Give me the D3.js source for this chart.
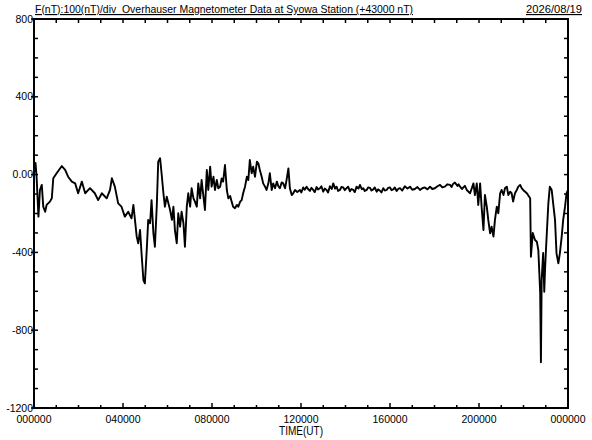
<!DOCTYPE html>
<html><head><meta charset="utf-8">
<script src="https://cdn.jsdelivr.net/npm/d3@7"></script>
<style>body{margin:0;background:#fff} svg{display:block}</style>
</head><body><svg id="c" width="592" height="440"></svg>
<script>
// [minutes of UT day, F in nT relative to +43000 nT]
const fieldSeries = [
[1,13],[4,60],[7,-12],[12,-216],[16,-79],[21,-53],[25,-165],[30,-191],[34,-156],[43,-139],[48,-122],[52,-19],[61,7],[75,44],[84,24],[92,-11],[102,-36],[111,-45],[119,-96],[129,-36],[138,-96],[151,-70],[164,-96],[173,-131],[183,-96],[196,-122],[205,-79],[210,-19],[218,-62],[227,-148],[236,-165],[245,-216],[254,-191],[263,-225],[268,-156],[277,-319],[281,-353],[286,-285],[290,-405],[295,-542],[299,-559],[304,-388],[308,-233],[313,-250],[317,-131],[322,-302],[326,-371],[331,-165],[335,66],[340,84],[344,7],[349,-96],[353,-165],[358,-114],[367,-182],[372,-233],[376,-165],[380,-285],[385,-353],[389,-199],[394,-268],[398,-191],[403,-250],[407,-371],[412,-165],[416,-96],[421,-165],[425,-70],[430,-122],[434,-139],[439,-165],[443,-45],[448,-122],[452,-28],[457,-114],[461,-182],[466,24],[470,-79],[475,41],[479,-62],[484,-11],[488,-79],[493,-28],[497,-70],[502,-62],[506,-20],[510,-36],[515,49],[520,-79],[524,-122],[529,-110],[533,-139],[537,-165],[542,-173],[547,-156],[551,-165],[556,-139],[560,-131],[564,-96],[569,-62],[574,-11],[578,-28],[582,75],[587,7],[591,41],[596,-11],[601,66],[605,58],[609,24],[614,-11],[618,-45],[623,-62],[627,-79],[632,-45],[636,7],[641,-79],[645,-45],[650,-70],[655,-36],[659,-60],[663,-70],[668,-40],[672,-45],[677,-70],[681,-28],[686,32],[690,-70],[695,-105],[699,-96],[704,-79],[710,-90],
[717,-79],[721,-92],[726,-66],[730,-78],[735,-62],[739,-74],[744,-84],[748,-68],[753,-79],[757,-90],[762,-64],[766,-76],[771,-70],[775,-60],[780,-88],[784,-72],[789,-79],[793,-92],[798,-60],[803,-74],[807,-45],[812,-72],[816,-62],[820,-84],[825,-79],[829,-64],[834,-66],[838,-80],[843,-70],[847,-62],[852,-86],[856,-74],[861,-79],[865,-90],[870,-62],[875,-72],[879,-53],[884,-75],[888,-70],[892,-84],[897,-79],[901,-66],[906,-68],[910,-82],[915,-76],[919,-66],[924,-88],[928,-76],[933,-83],[937,-92],[942,-70],[946,-82],[951,-79],[955,-68],[960,-66],[964,-80],[969,-76],[973,-66],[978,-84],[982,-74],[987,-70],[993,-82],[1000,-60],[1007,-72],[1014,-62],[1020,-78],[1027,-74],[1034,-64],[1041,-79],[1047,-70],[1054,-66],[1061,-76],[1068,-62],[1074,-74],[1081,-70],[1088,-60],[1095,-53],[1101,-66],[1108,-62],[1115,-50],[1122,-53],[1126,-64],[1130,-48],[1135,-41],[1142,-58],[1145,-50],[1149,-62],[1154,-74],[1158,-66],[1162,-58],[1167,-79],
[1176,-96],[1185,-45],[1189,-105],[1194,-45],[1198,-156],[1203,-45],[1207,-165],[1212,-285],[1216,-105],[1221,-165],[1225,-233],[1230,-302],[1234,-268],[1239,-319],[1243,-233],[1248,-165],[1252,-199],[1257,-96],[1261,-79],[1266,-105],[1270,-70],[1275,-62],[1279,-105],[1284,-88],[1288,-96],[1292,-139],[1297,-96],[1302,-79],[1306,-62],[1311,-53],[1315,-70],[1319,-79],[1329,-96],[1338,-122],[1340,-422],[1345,-300],[1351,-336],[1356,-345],[1360,-388],[1365,-609],[1367,-965],[1369,-542],[1373,-403],[1376,-602],[1378,-490],[1381,-371],[1387,-148],[1391,-62],[1396,-79],[1400,-148],[1405,-233],[1409,-405],[1414,-456],[1418,-405],[1423,-319],[1427,-233],[1432,-165],[1436,-96],[1440,-79]
];

const yTickValues = [800, 400, 0, -400, -800, -1200];
const yTickLabels = ["800", "400", "0.00", "-400", "-800", "-1200"];
const xTickHours = [0, 4, 8, 12, 16, 20, 24];
const xTickLabels = ["000000", "040000", "080000", "120000", "160000", "200000", "000000"];
const titleText = "F(nT):100(nT)/div  Overhauser Magnetometer Data at Syowa Station (+43000 nT)";
const dateText = "2026/08/19";
const xAxisTitle = "TIME(UT)";

const L = 34, R = 568, T = 19, B = 408;
const svg = d3.select("#c");
const font = "'Liberation Sans', Arial, sans-serif";
const x = d3.scaleLinear().domain([0, 1440]).range([L, R]);
const y = d3.scaleLinear().domain([-1200, 800]).range([B, T]);

svg.append("rect").attr("width", 592).attr("height", 440).attr("fill", "#fff");

svg.append("clipPath").attr("id", "clip").append("rect")
  .attr("x", L).attr("y", T).attr("width", R - L).attr("height", B - T);

svg.append("path").datum(fieldSeries)
  .attr("clip-path", "url(#clip)")
  .attr("fill", "none").attr("stroke", "#000").attr("stroke-width", 1.9)
  .attr("stroke-linejoin", "round")
  .attr("d", d3.line().x(d => x(d[0])).y(d => y(d[1])));

const g = svg.append("g").attr("stroke", "#000").attr("stroke-width", 1.5);
d3.range(-1200, 801, 100).forEach(v => {
  const major = v % 400 === 0;
  g.append("line").attr("x1", major ? L - 3 : L).attr("x2", L + 4).attr("y1", y(v)).attr("y2", y(v));
  g.append("line").attr("x1", R - 4).attr("x2", R).attr("y1", y(v)).attr("y2", y(v));
});
d3.range(0, 25, 1).forEach(h => {
  const major = h % 4 === 0;
  g.append("line").attr("x1", x(h * 60)).attr("x2", x(h * 60)).attr("y1", B).attr("y2", B - (major ? 5 : 3));
  g.append("line").attr("x1", x(h * 60)).attr("x2", x(h * 60)).attr("y1", T).attr("y2", T + 4);
});

svg.append("rect").attr("x", L).attr("y", T).attr("width", R - L).attr("height", B - T)
  .attr("fill", "none").attr("stroke", "#000").attr("stroke-width", 2);

svg.append("g").selectAll("text").data(yTickValues).join("text")
  .attr("x", L - 1).attr("y", d => y(d)).attr("dy", "0.35em")
  .attr("text-anchor", "end").attr("font-family", font).attr("font-size", 10.5)
  .text((d, i) => yTickLabels[i]);

svg.append("g").selectAll("text").data(xTickHours).join("text")
  .attr("x", d => x(d * 60)).attr("y", 423)
  .attr("text-anchor", "middle").attr("font-family", font).attr("font-size", 10.5)
  .text((d, i) => xTickLabels[i]);

svg.append("text").attr("x", (L + R) / 2).attr("y", 435).attr("text-anchor", "middle")
  .attr("font-family", font).attr("font-size", 12)
  .attr("textLength", 44).attr("lengthAdjust", "spacingAndGlyphs").text(xAxisTitle);

svg.append("text").attr("x", 35).attr("y", 13).attr("font-family", font).attr("font-size", 11.5)
  .style("white-space", "pre").attr("text-decoration", "underline")
  .attr("textLength", 378).attr("lengthAdjust", "spacingAndGlyphs").text(titleText);
svg.append("text").attr("x", 582).attr("y", 13).attr("text-anchor", "end").attr("font-family", font)
  .attr("font-size", 11.5).attr("text-decoration", "underline")
  .attr("textLength", 56).attr("lengthAdjust", "spacingAndGlyphs").text(dateText);
</script></body></html>
